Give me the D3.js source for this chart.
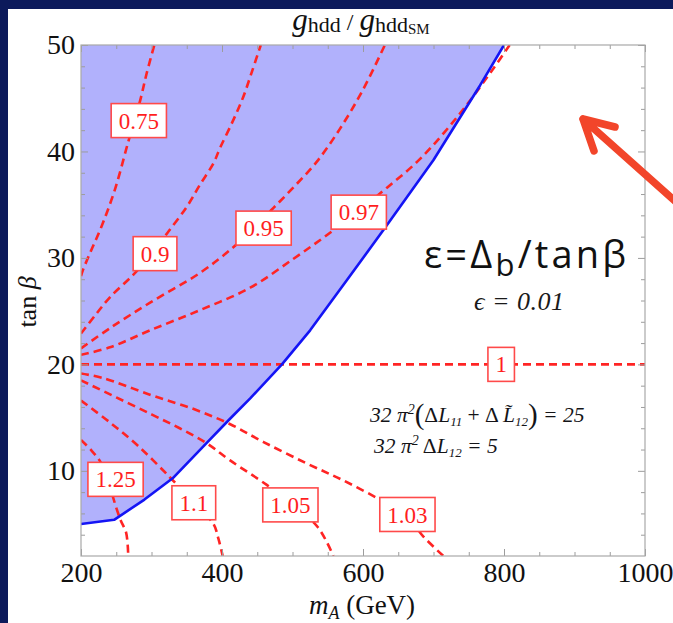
<!DOCTYPE html>
<html>
<head>
<meta charset="utf-8">
<script src="https://cdnjs.cloudflare.com/ajax/libs/d3/7.8.5/d3.min.js"></script>
<style>
  html, body { margin: 0; padding: 0; background: #0c1a5b; }
  svg { display: block; }
</style>
</head>
<body>
<svg id="chart" width="673" height="623"></svg>
<script>
'use strict';

/* global d3 */

// axis ranges and ticks
var xDomain = [200, 1000];
var yDomain = [2, 50];
var xMajorTicks = [200, 400, 600, 800, 1000];
var xMinorTicks = [250, 300, 350, 450, 500, 550, 650, 700, 750, 850, 900, 950];
var yMajorTicks = [10, 20, 30, 40, 50];
var yMinorTicks = [4, 6, 8, 12, 14, 16, 18, 22, 24, 26, 28, 32, 34, 36, 38, 42, 44, 46, 48];

// blue boundary of the shaded region, [m_A, tan beta]
var boundary = [[200, 5.0], [247, 5.4], [290, 7.3], [330, 9.3], [378, 12.6], [410, 14.8],
  [440, 16.8], [485, 20.0], [525, 23.2], [577, 27.9], [631, 32.8], [700, 39.2], [766, 46.2], [800, 50]];

// dashed contours of g_hdd / g_hdd_SM, [m_A, tan beta]
var contour075 = [[200, 28.3], [203, 28.9], [215, 30.8], [227, 32.6], [248, 36.4], [267, 40.9],
  [284, 44.8], [293, 47.3], [304, 50]];
var contour090 = [[200, 22.9], [220, 24.6], [241, 26.3], [274, 28.4], [300, 30.3], [322, 32.3],
  [350, 34.8], [369, 36.9], [388, 38.9], [397, 40.3], [415, 42.8], [430, 45.1], [442, 47.4], [455, 50]];
var contour095 = [[200, 21.5], [241, 23.4], [298, 25.8], [369, 28.6], [416, 31.0], [440, 32.5],
  [470, 34.5], [501, 36.6], [534, 39.0], [567, 42.1], [600, 45.8], [631, 50]];
var contour097 = [[200, 20.9], [241, 21.6], [298, 23.2], [369, 25.1], [440, 27.2], [501, 29.9],
  [548, 32.1], [593, 34.4], [634, 36.6], [681, 39.3], [738, 43.6], [785, 47.8], [808, 50]];
var contour100 = [[200, 20], [1000, 20]];
var contour103 = [[200, 19.15], [232, 18.7], [300, 17.1], [360, 15.8], [411, 14.4], [459, 12.7],
  [520, 10.7], [572, 9.1], [624, 7.3], [660, 5.9], [686, 3.8], [714, 2]];
var contour105 = [[200, 18.5], [250, 16.9], [300, 15.3], [340, 14.0], [378, 12.6], [411, 11.0],
  [463, 8.7], [500, 6.8], [536, 4.7], [558, 2]];
var contour110 = [[200, 16.6], [240, 14.6], [280, 12.4], [326, 9.4], [360, 7.0], [388, 5.0],
  [395, 3.6], [401, 2]];
var contour125 = [[200, 12.9], [215, 11.9], [228, 10.8], [240, 9.0], [246, 7.4], [256, 5.4],
  [264, 4.2], [267, 2]];

// contour labels: [text, m_A, tan beta]
var contourLabels = [['0.75', 282, 42.9], ['0.9', 305, 30.4], ['0.95', 459, 32.8], ['0.97', 594, 34.3],
  ['1', 796, 20], ['1.03', 663, 5.9], ['1.05', 497, 6.8], ['1.1', 360, 7.0], ['1.25', 249, 9.2]];

var serif = '"Liberation Serif", "Times New Roman", serif';

var svg = d3.select('#chart');

var x = d3.scaleLinear().domain(xDomain).range([81, 645]);
var y = d3.scaleLinear().domain(yDomain).range([556, 45]);

var plotBottom = y(yDomain[0]), plotTop = y(yDomain[1]);
var plotLeft = x(xDomain[0]), plotRight = x(xDomain[1]);

// slide background and white panel
svg.append('rect').attr('width', 673).attr('height', 623).attr('fill', '#0c1a5b');
svg.append('rect').attr('x', 8).attr('y', 9).attr('width', 665).attr('height', 614).attr('fill', '#fff');

svg.append('clipPath').attr('id', 'plot-clip')
  .append('rect')
  .attr('x', plotLeft).attr('y', plotTop)
  .attr('width', plotRight - plotLeft)
  .attr('height', plotBottom - plotTop);

var plot = svg.append('g').attr('clip-path', 'url(#plot-clip)');

var line = d3.line().x(function(d) { return x(d[0]); }).y(function(d) { return y(d[1]); });
var smooth = d3.line().curve(d3.curveCatmullRom.alpha(0.5))
  .x(function(d) { return x(d[0]); }).y(function(d) { return y(d[1]); });

// shaded region above the boundary
plot.append('path')
  .attr('d', line(boundary.concat([[xDomain[0], yDomain[1]]])) + 'Z')
  .attr('fill', '#b1b1fc');


/*
 * ticks
 */

function styleAxis(g) {
  g.select('.domain').remove();
  g.selectAll('.tick line').attr('stroke', '#9c9c9c').attr('stroke-width', 1);
  g.selectAll('.tick text')
    .attr('fill', '#111')
    .style('font-family', serif)
    .style('font-size', '28px');
}

svg.append('g').attr('transform', 'translate(0,' + plotBottom + ')')
  .call(d3.axisBottom(x).tickValues(xMinorTicks).tickSize(-4).tickFormat(''))
  .call(styleAxis);
svg.append('g').attr('transform', 'translate(0,' + plotTop + ')')
  .call(d3.axisTop(x).tickValues(xMinorTicks).tickSize(-4).tickFormat(''))
  .call(styleAxis);
svg.append('g').attr('transform', 'translate(' + plotLeft + ',0)')
  .call(d3.axisLeft(y).tickValues(yMinorTicks).tickSize(-4).tickFormat(''))
  .call(styleAxis);
svg.append('g').attr('transform', 'translate(' + plotRight + ',0)')
  .call(d3.axisRight(y).tickValues(yMinorTicks).tickSize(-4).tickFormat(''))
  .call(styleAxis);

svg.append('g').attr('transform', 'translate(0,' + plotBottom + ')')
  .call(d3.axisBottom(x).tickValues(xMajorTicks).tickSize(-7).tickPadding(6).tickFormat(d3.format('d')))
  .call(styleAxis);
svg.append('g').attr('transform', 'translate(0,' + plotTop + ')')
  .call(d3.axisTop(x).tickValues(xMajorTicks).tickSize(-7).tickFormat(''))
  .call(styleAxis);
svg.append('g').attr('transform', 'translate(' + plotLeft + ',0)')
  .call(d3.axisLeft(y).tickValues(yMajorTicks).tickSize(-7).tickPadding(6).tickFormat(d3.format('d')))
  .call(styleAxis);
svg.append('g').attr('transform', 'translate(' + plotRight + ',0)')
  .call(d3.axisRight(y).tickValues(yMajorTicks).tickSize(-7).tickFormat(''))
  .call(styleAxis);


/*
 * contours
 */

[contour075, contour090, contour095, contour097, contour100, contour103, contour105, contour110, contour125]
  .forEach(function(c) {
    plot.append('path')
      .attr('d', smooth(c))
      .attr('fill', 'none')
      .attr('stroke', '#ff2424')
      .attr('stroke-width', 2.6)
      .attr('stroke-dasharray', '8,5');
  });

plot.append('path')
  .attr('d', line(boundary))
  .attr('fill', 'none')
  .attr('stroke', '#1414f5')
  .attr('stroke-width', 2.6)
  .attr('stroke-linejoin', 'round');

// frame
svg.append('rect')
  .attr('x', plotLeft).attr('y', plotTop)
  .attr('width', plotRight - plotLeft).attr('height', plotBottom - plotTop)
  .attr('fill', 'none')
  .attr('stroke', '#a8a8a8')
  .attr('stroke-width', 1.2);

// contour label boxes
contourLabels.forEach(function(d) {
  var g = svg.append('g').attr('transform', 'translate(' + x(d[1]) + ',' + y(d[2]) + ')');
  var box = g.append('rect');
  var t = g.append('text')
    .attr('text-anchor', 'middle')
    .attr('dy', '0.35em')
    .attr('fill', '#ff1e1e')
    .style('font-family', serif)
    .style('font-size', '23px')
    .text(d[0]);
  var w = t.node().getComputedTextLength() + 15;
  box.attr('x', -w / 2).attr('y', -17).attr('width', w).attr('height', 34)
    .attr('fill', '#fff')
    .attr('stroke', '#ff4a4a')
    .attr('stroke-width', 1.6);
});


/*
 * titles and annotations
 */

var title = svg.append('text')
  .attr('x', 361).attr('y', 30)
  .attr('text-anchor', 'middle')
  .attr('fill', '#111')
  .style('font-family', serif);
title.append('tspan').style('font-style', 'italic').style('font-size', '31px').text('g');
title.append('tspan').style('font-size', '22px').attr('dy', 2).text('hdd');
title.append('tspan').style('font-size', '24px').attr('dy', -2).text(' / ');
title.append('tspan').style('font-style', 'italic').style('font-size', '31px').text('g');
title.append('tspan').style('font-size', '22px').attr('dy', 2).text('hdd');
title.append('tspan').style('font-size', '15px').attr('dy', 2).text('SM');

var xTitle = svg.append('text')
  .attr('x', 362).attr('y', 614)
  .attr('text-anchor', 'middle')
  .attr('fill', '#111')
  .style('font-family', serif)
  .style('font-size', '27px');
xTitle.append('tspan').style('font-style', 'italic').text('m');
xTitle.append('tspan').style('font-style', 'italic').style('font-size', '18px').attr('dy', 5).text('A');
xTitle.append('tspan').attr('dy', -5).text(' (GeV)');

var yTitle = svg.append('text')
  .attr('transform', 'translate(36,302) rotate(-90)')
  .attr('text-anchor', 'middle')
  .attr('fill', '#111')
  .style('font-family', serif)
  .style('font-size', '26px');
yTitle.append('tspan').text('tan ');
yTitle.append('tspan').style('font-style', 'italic').text('β');

// epsilon definition
var eps = svg.append('text')
  .attr('x', 424).attr('y', 268)
  .attr('fill', '#111')
  .style('font-family', '"Open Sans", sans-serif')
  .style('font-size', '38px')
  .style('letter-spacing', '3.2px');
eps.append('tspan').text('ε=Δ');
eps.append('tspan').style('font-size', '31px').attr('dy', 8).text('b');
eps.append('tspan').attr('dy', -8).text('/tanβ');

svg.append('text')
  .attr('x', 474).attr('y', 310)
  .attr('fill', '#1a1a1a')
  .style('font-family', serif)
  .style('font-style', 'italic')
  .style('font-size', '26px')
  .style('letter-spacing', '0.5px')
  .text('ϵ = 0.01');

// loop correction inputs
var eq1 = svg.append('text')
  .attr('x', 370).attr('y', 422)
  .attr('fill', '#141418')
  .style('font-family', serif)
  .style('font-style', 'italic')
  .style('font-size', '21.5px');
eq1.append('tspan').text('32 π');
eq1.append('tspan').style('font-size', '14px').attr('dy', -8).text('2');
eq1.append('tspan').style('font-size', '29px').style('font-style', 'normal').attr('dy', 10).text('(');
eq1.append('tspan').style('font-style', 'normal').attr('dy', -2).text('Δ');
eq1.append('tspan').text('L');
eq1.append('tspan').style('font-size', '13px').attr('dy', 4).text('11');
eq1.append('tspan').style('font-style', 'normal').attr('dy', -4).text(' + Δ ');
eq1.append('tspan').text('L\u0303');
eq1.append('tspan').style('font-size', '13px').attr('dy', 4).text('12');
eq1.append('tspan').style('font-size', '29px').style('font-style', 'normal').attr('dy', -2).text(')');
eq1.append('tspan').attr('dy', -2).text(' = 25');

var eq2 = svg.append('text')
  .attr('x', 374).attr('y', 453)
  .attr('fill', '#141418')
  .style('font-family', serif)
  .style('font-style', 'italic')
  .style('font-size', '21.5px');
eq2.append('tspan').text('32 π');
eq2.append('tspan').style('font-size', '14px').attr('dy', -8).text('2');
eq2.append('tspan').style('font-style', 'normal').attr('dy', 8).text(' Δ');
eq2.append('tspan').text('L');
eq2.append('tspan').style('font-size', '13px').attr('dy', 4).text('12');
eq2.append('tspan').attr('dy', -4).text(' = 5');

// red arrow pointing into the unshaded region
svg.append('path')
  .attr('d', 'M676,202 L583,119 M615,127 L583,119 L594,151')
  .attr('fill', 'none')
  .attr('stroke', '#f2452a')
  .attr('stroke-width', 7.5)
  .attr('stroke-linecap', 'round')
  .attr('stroke-linejoin', 'round');
</script>
</body>
</html>
